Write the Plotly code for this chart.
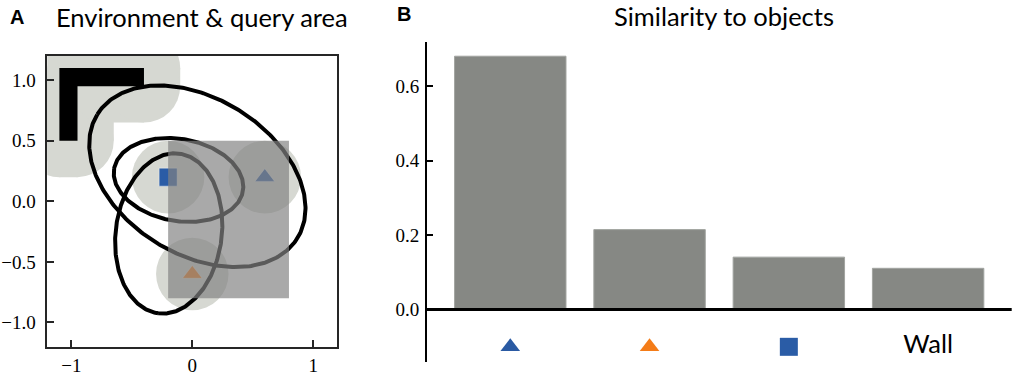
import numpy as np
import plotly.graph_objects as go

W, H = 1013, 376

# ---------------- Panel A data ----------------
WALL_X = [-1.1, -0.4, -0.4, -0.95, -0.95, -1.1]
WALL_Y = [1.1, 1.1, 0.95, 0.95, 0.5, 0.5]
HALO_R = 0.3
OBJ_X = [0.6, 0.0, -0.2]
OBJ_Y = [0.2, -0.6, 0.2]
OBJ_SYMBOLS = ["triangle-up", "triangle-up", "square"]
OBJ_SIZES = [17, 17, 18]
OBJ_COLORS = ["#2a5aa3", "#f47c18", "#2a5ca6"]
QUERY_X = [-0.2, 0.8]
QUERY_Y = [-0.8, 0.5]

# ellipses (centre, semi-axes, orientation of first axis in degrees)
ELL_CX = [0.042, -0.114, -0.195]
ELL_CY = [0.207, 0.177, -0.265]
ELL_A = [0.973, 0.541, 0.665]
ELL_B = [0.645, 0.339, 0.439]
ELL_ANGLE = [148.4, 170.1, -97.6]

A_TICKS_X = [-1, 0, 1]
A_TICKTEXT_X = ["\u22121", "0", "1"]
A_TICKS_Y = [-1.0, -0.5, 0.0, 0.5, 1.0]
A_TICKTEXT_Y = ["\u22121.0", "\u22120.5", "0.0", "0.5", "1.0"]

# ---------------- Panel B data ----------------
CATEGORIES = ["blue triangle", "orange triangle", "blue square", "Wall"]
SIMILARITY = [0.681, 0.215, 0.141, 0.111]
LABEL_SYMBOLS = ["triangle-up", "triangle-up", "square"]
LABEL_SIZES = [17, 17, 18]
LABEL_COLORS = ["#2a5aa3", "#f47c18", "#2a5ca6"]
B_TICKS_Y = [0.0, 0.2, 0.4, 0.6]
B_TICKTEXT_Y = ["0.0", "0.2", "0.4", "0.6"]

HALO_COLOR = "#d6d8d2"
BAR_COLOR = "#868884"
SERIF = "Liberation Serif"
SANS = "Lato"


def px_x(p):
    return p / W


def px_y(p):
    return 1 - p / H


fig = go.Figure()
shapes = []

# halo around wall: polygon + edge bands + vertex discs
n = len(WALL_X)
for i in range(n):
    x1, y1 = WALL_X[i], WALL_Y[i]
    x2, y2 = WALL_X[(i + 1) % n], WALL_Y[(i + 1) % n]
    if y1 == y2:
        shapes.append(dict(type="rect", xref="x", yref="y", x0=min(x1, x2), x1=max(x1, x2),
                           y0=y1 - HALO_R, y1=y1 + HALO_R, fillcolor=HALO_COLOR, line_width=0, layer="below"))
    else:
        shapes.append(dict(type="rect", xref="x", yref="y", x0=x1 - HALO_R, x1=x1 + HALO_R,
                           y0=min(y1, y2), y1=max(y1, y2), fillcolor=HALO_COLOR, line_width=0, layer="below"))
    shapes.append(dict(type="circle", xref="x", yref="y", x0=x1 - HALO_R, x1=x1 + HALO_R,
                       y0=y1 - HALO_R, y1=y1 + HALO_R, fillcolor=HALO_COLOR, line_width=0, layer="below"))
path = "M " + " L ".join(f"{x},{y}" for x, y in zip(WALL_X, WALL_Y)) + " Z"
shapes.append(dict(type="path", xref="x", yref="y", path=path, fillcolor=HALO_COLOR, line_width=0, layer="below"))
# halos around objects
for ox, oy in zip(OBJ_X, OBJ_Y):
    shapes.append(dict(type="circle", xref="x", yref="y", x0=ox - HALO_R, x1=ox + HALO_R,
                       y0=oy - HALO_R, y1=oy + HALO_R, fillcolor=HALO_COLOR, line_width=0, layer="below"))
# wall itself
shapes.append(dict(type="path", xref="x", yref="y", path=path, fillcolor="black", line_width=0, layer="below"))

# objects
fig.add_trace(go.Scatter(x=OBJ_X, y=OBJ_Y, mode="markers", xaxis="x", yaxis="y",
                         marker=dict(symbol=OBJ_SYMBOLS, size=OBJ_SIZES, color=OBJ_COLORS, opacity=1,
                                     line=dict(color="rgba(255,255,255,0.5)", width=0.8)),
                         opacity=1, hoverinfo="skip", showlegend=False))

# ellipses
t = np.linspace(0, 2 * np.pi, 361)
for cx, cy, a, b, ang in zip(ELL_CX, ELL_CY, ELL_A, ELL_B, ELL_ANGLE):
    th = np.radians(ang)
    ex = cx + a * np.cos(t) * np.cos(th) - b * np.sin(t) * np.sin(th)
    ey = cy + a * np.cos(t) * np.sin(th) + b * np.sin(t) * np.cos(th)
    fig.add_trace(go.Scatter(x=ex, y=ey, mode="lines", xaxis="x", yaxis="y",
                             line=dict(color="black", width=4), hoverinfo="skip", showlegend=False))

# query area (drawn over everything)
shapes.append(dict(type="rect", xref="x", yref="y", x0=QUERY_X[0], x1=QUERY_X[1], y0=QUERY_Y[0], y1=QUERY_Y[1],
                   fillcolor="rgba(131,131,131,0.69)", line_width=0, layer="above"))

# ---------------- Panel B ----------------
xb = list(range(len(CATEGORIES)))
fig.add_trace(go.Bar(x=xb, y=SIMILARITY, xaxis="x2", yaxis="y2", width=0.8,
                     marker=dict(color=BAR_COLOR, line=dict(color="#a2a4a0", width=1)),
                     hoverinfo="skip", showlegend=False))
fig.add_trace(go.Scatter(x=xb[:3], y=[-0.1] * 3, mode="markers", xaxis="x2", yaxis="y2",
                         marker=dict(symbol=LABEL_SYMBOLS, size=LABEL_SIZES, color=LABEL_COLORS, opacity=1,
                                     line=dict(width=0)),
                         opacity=1, hoverinfo="skip", showlegend=False, cliponaxis=False))
fig.add_trace(go.Scatter(x=[xb[3]], y=[-0.1], mode="text", text=[CATEGORIES[3]], xaxis="x2", yaxis="y2",
                         textfont=dict(family=SANS, size=25.5, color="black"), textposition="middle center",
                         hoverinfo="skip", showlegend=False, cliponaxis=False))
shapes.append(dict(type="line", xref="x2 domain", yref="y2", x0=0, x1=1, y0=0, y1=0,
                   line=dict(color="black", width=3), layer="above"))

fig.update_layout(
    width=W, height=H, margin=dict(l=0, r=0, t=0, b=0, autoexpand=False),
    paper_bgcolor="white", plot_bgcolor="white",
    shapes=shapes,
    xaxis=dict(domain=[px_x(47.3), px_x(337.3)], range=[-1.2, 1.2], showgrid=False, zeroline=False,
               automargin=False,
               showline=True, mirror=True, linecolor="#262626", linewidth=1.5,
               ticks="inside", ticklen=7, tickwidth=1.5, tickcolor="#262626",
               tickvals=A_TICKS_X, ticktext=A_TICKTEXT_X, ticklabelstandoff=1,
               tickfont=dict(family=SERIF, size=19, color="black")),
    yaxis=dict(domain=[px_y(346.7), px_y(56)], range=[-1.2, 1.2], showgrid=False, zeroline=False,
               automargin=False,
               showline=True, mirror=True, linecolor="#262626", linewidth=1.5,
               ticks="inside", ticklen=7, tickwidth=1.5, tickcolor="#262626",
               tickvals=A_TICKS_Y, ticktext=A_TICKTEXT_Y, ticklabelstandoff=6,
               tickfont=dict(family=SERIF, size=19, color="black")),
    xaxis2=dict(domain=[px_x(426.7), px_x(1011.7)], range=[-0.6, 3.6], showgrid=False, zeroline=False,
                automargin=False,
                showline=False, showticklabels=False, ticks=""),
    yaxis2=dict(domain=[px_y(361.7), px_y(41.7)], range=[-0.14, 0.72], showgrid=False, zeroline=False,
                automargin=False,
                showline=True, linecolor="black", linewidth=1.5, anchor="x2",
                ticks="inside", ticklen=7, tickwidth=1.5, tickcolor="black",
                tickvals=B_TICKS_Y, ticktext=B_TICKTEXT_Y, ticklabelstandoff=2,
                tickfont=dict(family=SERIF, size=19, color="black")),
    annotations=[
        dict(text="<b>A</b>", x=px_x(16.5), y=px_y(17), xref="paper", yref="paper", showarrow=False,
             xanchor="center", yanchor="middle", font=dict(family="Liberation Sans", size=20, color="black")),
        dict(text="Environment &amp; query area", x=px_x(202), y=px_y(17), xref="paper", yref="paper",
             showarrow=False, xanchor="center", yanchor="middle", font=dict(family=SANS, size=25.5, color="black")),
        dict(text="<b>B</b>", x=px_x(403.7), y=px_y(14), xref="paper", yref="paper", showarrow=False,
             xanchor="center", yanchor="middle", font=dict(family="Liberation Sans", size=20, color="black")),
        dict(text="Similarity to objects", x=px_x(723.5), y=px_y(16), xref="paper", yref="paper",
             showarrow=False, xanchor="center", yanchor="middle", font=dict(family=SANS, size=25.5, color="black")),
    ],
)

fig.write_html("out.html", config={"displayModeBar": False},
               post_script="document.body.style.margin='0px';")
